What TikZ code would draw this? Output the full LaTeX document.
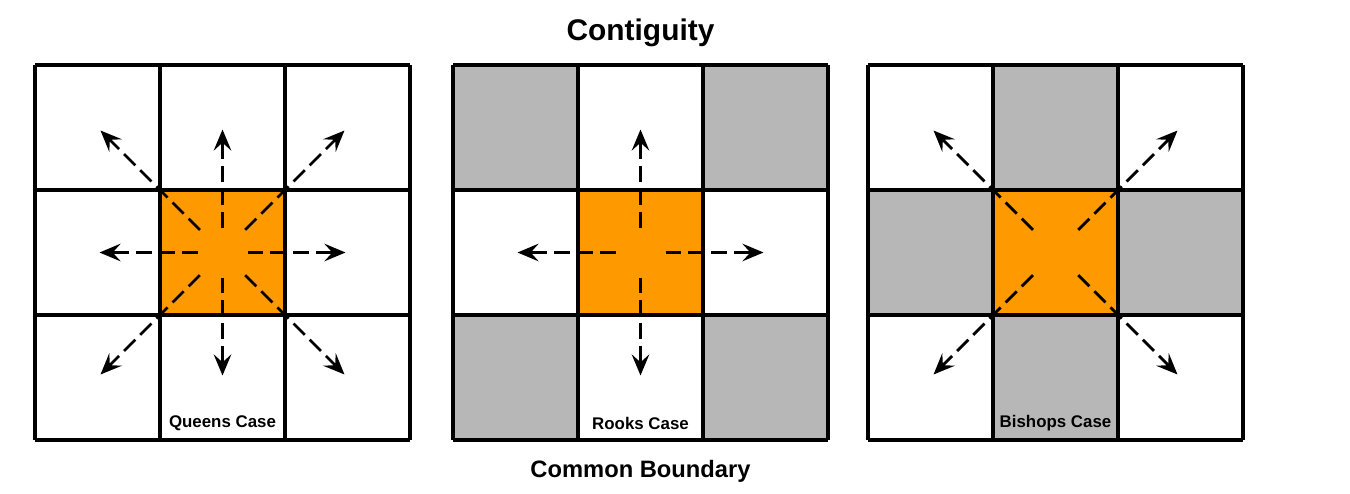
\documentclass[tikz,border=0pt]{standalone}
\usepackage{fontspec}
\setmainfont{Liberation Sans}
\usetikzlibrary{arrows.meta}

\definecolor{cellorange}{RGB}{255,153,0}
\definecolor{cellgray}{RGB}{183,183,183}

\tikzset{
  gridline/.style={line width=2pt},
  dasharrow/.style={line width=1.6pt, dash pattern=on 9pt off 4pt,
    -{Stealth[length=12pt,width=10pt,inset=4.5pt]}},
  caselabel/.style={font=\fontsize{9.6}{11}\selectfont\bfseries},
  headline/.style={font=\fontsize{17}{20}\selectfont\bfseries},
  footline/.style={font=\fontsize{13.5}{16}\selectfont\bfseries}
}

\begin{document}
\begin{tikzpicture}
        \useasboundingbox[fill=white] (0, 0) rectangle (27, 9.86);

        \node[headline] (title) at (12.81, 9.2) {Contiguity};
        \node[footline] (boundary) at (12.81, 0.44) {Common Boundary};

        % queens case
        \begin{scope}[shift={(0.7, 1.06)}]
        \fill[cellorange] (2.5, 2.5) rectangle (5, 5);
        \draw[gridline] (0, 0) grid[step=2.5] (7.5, 7.5);
        \coordinate (qc) at (3.75, 3.75);
        \foreach \a in {0, 90, 180, 270}
            \draw[dasharrow] (qc) ++(\a:0.5) -- ++(\a:1.96);
        \foreach \a in {45, 135, 225, 315}
            \draw[dasharrow] (qc) ++(\a:0.64) -- ++(\a:2.81);
        \node[caselabel] (queens) at (3.75, 0.33) {Queens Case};
        \end{scope}

        % rooks case
        \begin{scope}[shift={(9.06, 1.06)}]
        \foreach \x/\y in {0/0, 5/0, 0/5, 5/5}
            \fill[cellgray] (\x, \y) rectangle ++(2.5, 2.5);
        \fill[cellorange] (2.5, 2.5) rectangle (5, 5);
        \draw[gridline] (0, 0) grid[step=2.5] (7.5, 7.5);
        \coordinate (rc) at (3.75, 3.75);
        \foreach \a in {0, 90, 180, 270}
            \draw[dasharrow] (rc) ++(\a:0.5) -- ++(\a:1.96);
        \node[caselabel] (rooks) at (3.75, 0.33) {Rooks Case};
        \end{scope}

        % bishops case
        \begin{scope}[shift={(17.36, 1.06)}]
        \foreach \x/\y in {2.5/0, 0/2.5, 5/2.5, 2.5/5}
            \fill[cellgray] (\x, \y) rectangle ++(2.5, 2.5);
        \fill[cellorange] (2.5, 2.5) rectangle (5, 5);
        \draw[gridline] (0, 0) grid[step=2.5] (7.5, 7.5);
        \coordinate (bc) at (3.75, 3.75);
        \foreach \a in {45, 135, 225, 315}
            \draw[dasharrow] (bc) ++(\a:0.64) -- ++(\a:2.81);
        \node[caselabel] (bishops) at (3.75, 0.33) {Bishops Case};
        \end{scope}
    \end{tikzpicture}
\end{document}
